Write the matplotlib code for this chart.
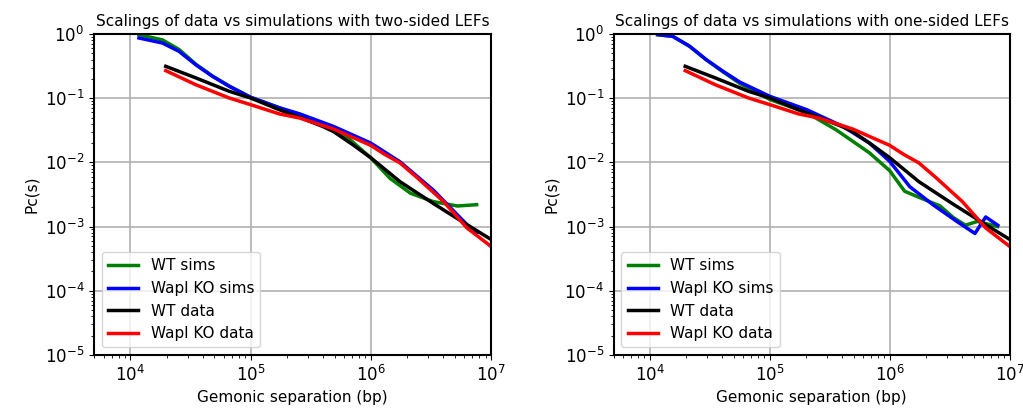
import numpy as np
import matplotlib
matplotlib.use('Agg')
import matplotlib.pyplot as plt

# experimental scalings (same for both panels)
wt_x = [19700, 35100, 66500, 1.0e5, 1.74e5, 2.57e5, 3.98e5, 4.9e5, 7.16e5, 1.0e6, 1.75e6, 3.31e6, 6.31e6, 1.0e7]
wt_data = [0.314, 0.207, 0.128, 0.1007, 0.066, 0.0501, 0.0363, 0.0302, 0.0186, 0.0118, 0.005, 0.00229, 0.00107, 0.00063]

ko_x = [19700, 35100, 66500, 1.0e5, 1.74e5, 2.57e5, 4.9e5, 1.0e6, 1.29e6, 1.75e6, 2.45e6, 3.16e6, 4.03e6, 6.31e6, 1.0e7]
ko_data = [0.269, 0.162, 0.1007, 0.0794, 0.0568, 0.049, 0.0331, 0.0184, 0.0135, 0.0098, 0.0057, 0.0037, 0.00245, 0.00095, 0.00049]

# two-sided LEF simulations
two_wt_x = [11800, 18500, 25400, 35100, 48200, 66500, 1.0e5, 1.74e5, 2.57e5, 4.9e5, 6.76e5, 1.0e6, 1.45e6, 2.14e6, 3.31e6, 5.25e6, 7.59e6]
two_wt = [0.977, 0.81, 0.575, 0.338, 0.222, 0.155, 0.1035, 0.0708, 0.055, 0.0331, 0.0224, 0.01175, 0.0056, 0.0033, 0.00245, 0.00209, 0.00219]
two_ko_x = [11800, 18500, 25400, 35100, 48200, 66500, 1.0e5, 1.74e5, 2.57e5, 4.9e5, 1.0e6, 1.75e6, 3.31e6, 6.31e6, 7.59e6]
two_ko = [0.867, 0.724, 0.537, 0.331, 0.219, 0.153, 0.1035, 0.0708, 0.0569, 0.0363, 0.02, 0.0102, 0.0037, 0.00107, 0.00079]

# one-sided LEF simulations
one_wt_x = [11600, 15500, 21400, 29500, 40700, 56200, 1.0e5, 2.04e5, 3.55e5, 6.76e5, 1.0e6, 1.33e6, 1.78e6, 2.63e6, 3.39e6, 4.27e6, 5.37e6, 7.94e6]
one_wt = [0.977, 0.92, 0.646, 0.398, 0.257, 0.17, 0.0955, 0.0589, 0.0324, 0.0141, 0.0074, 0.00355, 0.00282, 0.00209, 0.00138, 0.00105, 0.0012, 0.001]
one_ko_x = [11600, 15500, 21400, 29500, 40700, 56200, 1.0e5, 2.04e5, 4.07e5, 6.76e5, 1.0e6, 1.47e6, 2.29e6, 3.63e6, 5.13e6, 6.31e6, 7.94e6]
one_ko = [0.977, 0.92, 0.646, 0.398, 0.263, 0.178, 0.107, 0.066, 0.0363, 0.02, 0.01035, 0.00417, 0.00219, 0.0012, 0.00078, 0.00141, 0.00105]

titles = ['Scalings of data vs simulations with two-sided LEFs',
          'Scalings of data vs simulations with one-sided LEFs']

fig = plt.figure(figsize=(10.23, 4.2), dpi=100)
ax1 = fig.add_axes([0.092, 0.155, 0.388, 0.764])
ax2 = fig.add_axes([0.600, 0.155, 0.387, 0.764])

sims = [(two_wt_x, two_wt, two_ko_x, two_ko), (one_wt_x, one_wt, one_ko_x, one_ko)]

for ax, title, (wx, wy, kx, ky) in zip([ax1, ax2], titles, sims):
    ax.plot(wx, wy, color='green', lw=2.5, label='WT sims')
    ax.plot(kx, ky, color='blue', lw=2.5, label='Wapl KO sims')
    ax.plot(wt_x, wt_data, color='black', lw=2.5, label='WT data')
    ax.plot(ko_x, ko_data, color='red', lw=2.5, label='Wapl KO data')
    ax.set_xscale('log')
    ax.set_yscale('log')
    ax.set_xlim(5e3, 1e7)
    ax.set_ylim(1e-5, 1)
    ax.grid(True, which='major', color='#b0b0b0', lw=1.2)
    ax.set_title(title, fontsize=11)
    ax.set_xlabel('Gemonic separation (bp)', fontsize=11)
    ax.set_ylabel('Pc(s)', fontsize=11)
    ax.tick_params(labelsize=12)
    ax.legend(loc='lower left', fontsize=11)
    for s in ax.spines.values():
        s.set_linewidth(1.5)

fig.savefig('out.png', dpi=100)
